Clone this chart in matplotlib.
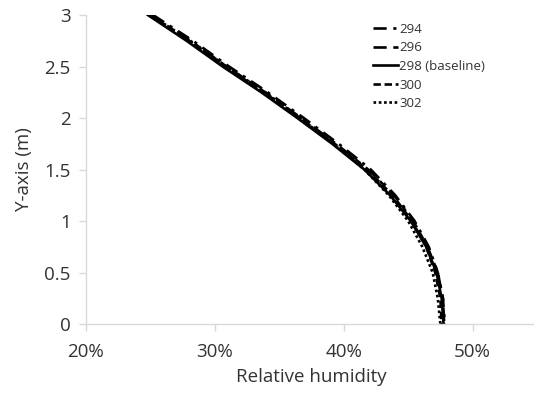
import matplotlib
matplotlib.use("Agg")
import matplotlib.pyplot as plt
from matplotlib.ticker import FuncFormatter

plt.rcParams['font.family'] = ['Open Sans', 'DejaVu Sans']

heights = [3.0, 2.75, 2.5, 2.25, 2.0, 1.75, 1.5, 1.25, 1.0, 0.75, 0.5, 0.25, 0.0]
rh_294 = [25.2, 28.3, 31.1, 34.1, 36.9, 39.6, 42.1, 44.0, 45.5, 46.6, 47.3, 47.7, 47.85]
rh_296 = [25.0, 28.1, 30.9, 33.9, 36.7, 39.4, 41.9, 43.9, 45.4, 46.5, 47.3, 47.7, 47.8]
rh_298 = [24.8, 27.8, 30.6, 33.6, 36.4, 39.1, 41.6, 43.6, 45.2, 46.4, 47.2, 47.6, 47.75]
rh_300 = [24.9, 28.0, 30.8, 33.8, 36.6, 39.3, 41.8, 43.8, 45.3, 46.4, 47.1, 47.5, 47.6]
rh_302 = [25.0, 28.1, 30.9, 33.9, 36.6, 39.2, 41.6, 43.5, 45.0, 46.1, 46.9, 47.3, 47.5]
labels = ['294', '296', '298 (baseline)', '300', '302']
xticks = [20, 30, 40, 50]
yticks = [0, 0.5, 1, 1.5, 2, 2.5, 3]

fig = plt.figure(figsize=(5.34, 3.96), dpi=100)
ax = fig.add_axes([86/534, 1-324/396, (537-86)/534, (324-15)/396])

styles = [
    dict(dashes=(5, 2.5, 1.2, 2.5)),
    dict(dashes=(5, 2.5, 2.5, 2.5)),
    dict(linestyle='-'),
    dict(dashes=(2.8, 1.4)),
    dict(dashes=(1.0, 1.0)),
]
series = [rh_294, rh_296, rh_298, rh_300, rh_302]
for vals, lab, st in zip(series, labels, styles):
    ax.plot([v / 100 for v in vals], heights, color='black', lw=1.9, label=lab, **st)

ax.set_xlim(0.20, 0.55)
ax.set_ylim(0, 3)
ax.set_xticks([t / 100 for t in xticks])
ax.set_yticks(yticks)
ax.xaxis.set_major_formatter(FuncFormatter(lambda v, p: f"{v*100:.0f}%"))
ax.yaxis.set_major_formatter(FuncFormatter(lambda v, p: f"{v:g}"))

for s in ['top', 'right']:
    ax.spines[s].set_visible(False)
for s in ['left', 'bottom']:
    ax.spines[s].set_color('#d9d9d9')
    ax.spines[s].set_linewidth(1.0)
ax.tick_params(axis='both', colors='#d9d9d9', labelcolor='#333333', labelsize=13.5, length=5, width=1)
ax.tick_params(axis='x', pad=9)
ax.tick_params(axis='y', pad=6)

ax.set_xlabel('Relative humidity', fontsize=13.5, color='#333333', labelpad=5)
ax.set_ylabel('Y-axis (m)', fontsize=13.5, color='#333333', labelpad=8)

leg = ax.legend(loc='upper left', bbox_to_anchor=((365-86)/451, 1.0), frameon=False,
                fontsize=9.5, handlelength=1.9, handletextpad=0.1, labelspacing=0.42,
                borderaxespad=0.2, labelcolor='#333333')

fig.savefig('out.png', dpi=100)
